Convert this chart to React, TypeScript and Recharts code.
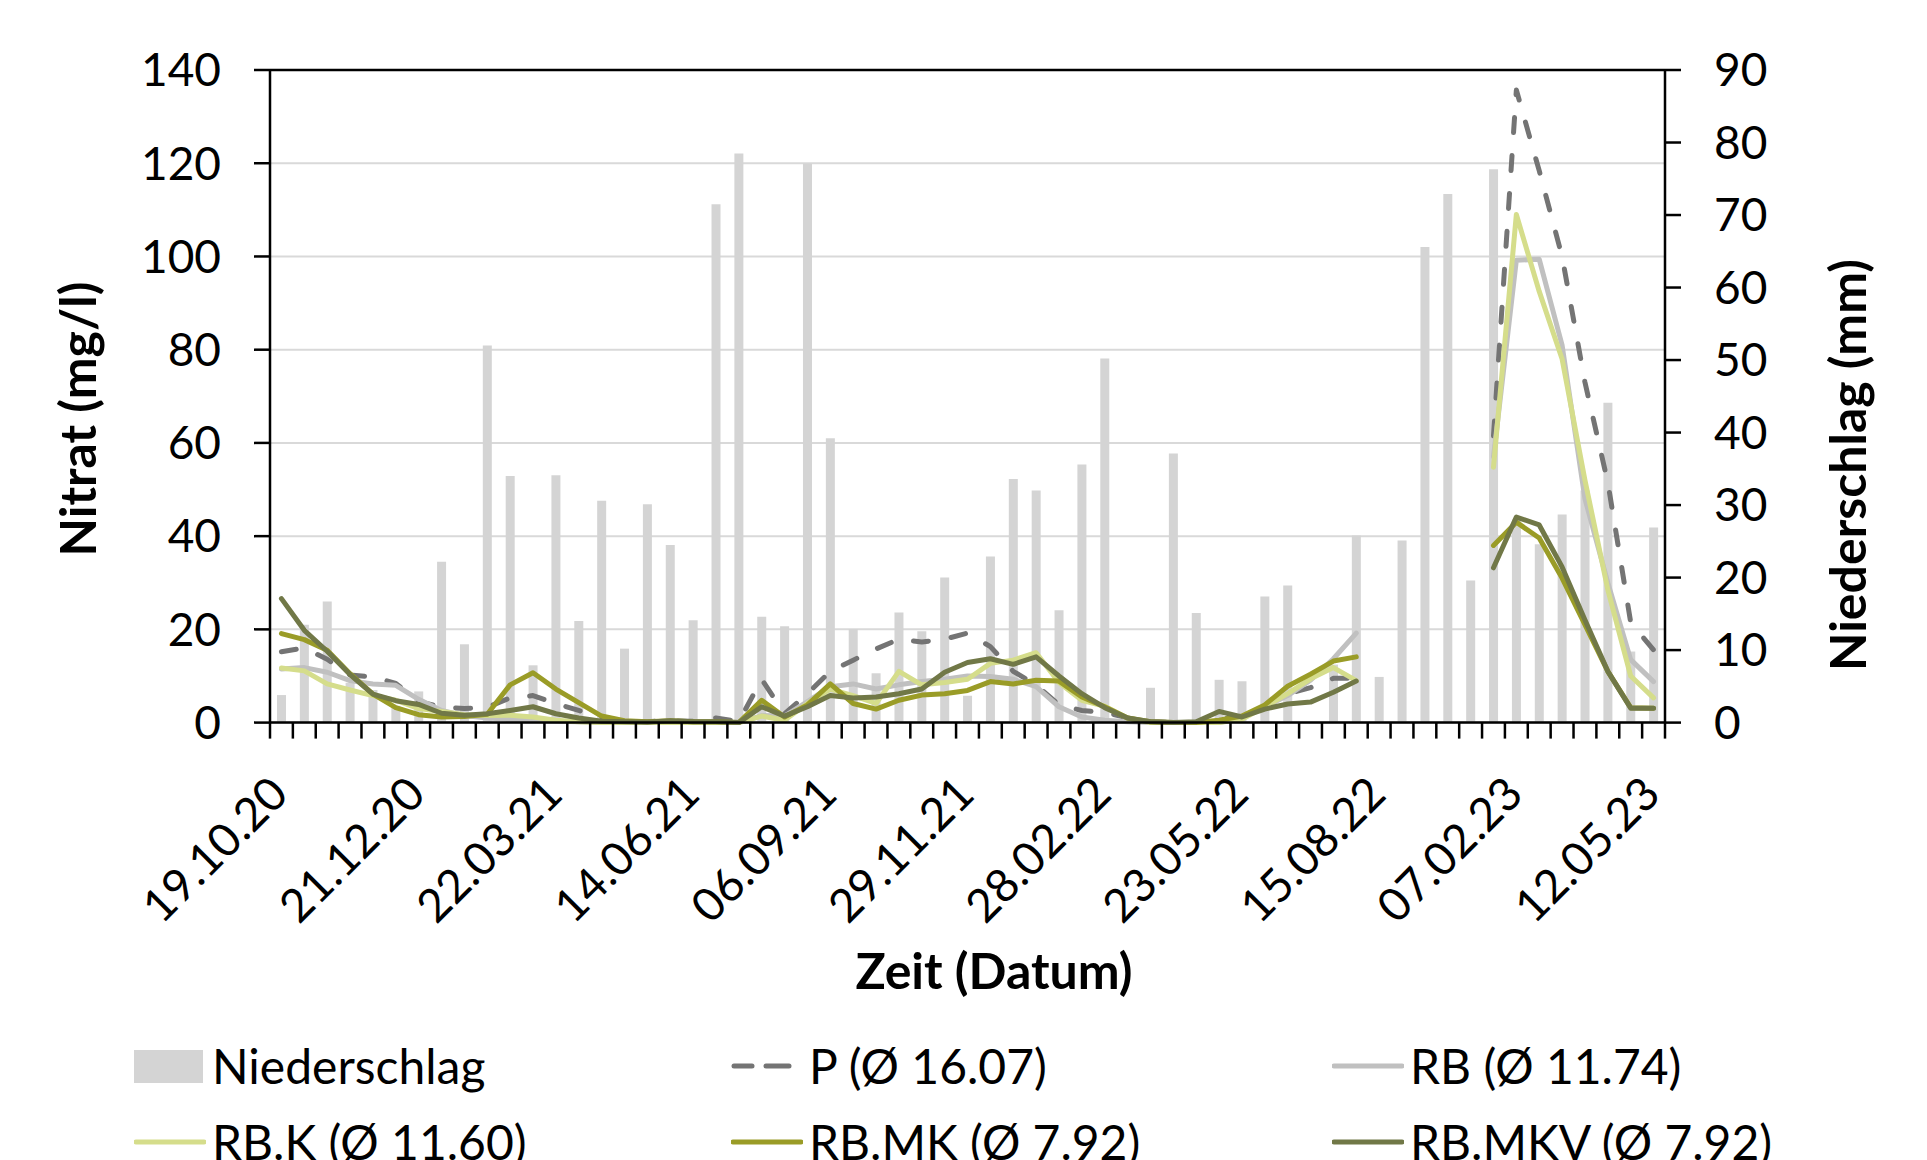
import React from "react";
import { ComposedChart, Bar, Line, XAxis, YAxis, CartesianGrid, ReferenceLine } from "recharts";

// Probenahmetermine (Kategorien)
const dates = [
  "19.10.20", "02.11.20", "16.11.20", "30.11.20", "07.12.20", "14.12.20",
  "21.12.20", "04.01.21", "18.01.21", "01.02.21", "15.02.21", "01.03.21",
  "22.03.21", "06.04.21", "19.04.21", "03.05.21", "17.05.21", "31.05.21",
  "14.06.21", "28.06.21", "12.07.21", "26.07.21", "09.08.21", "23.08.21",
  "06.09.21", "20.09.21", "04.10.21", "18.10.21", "01.11.21", "15.11.21",
  "29.11.21", "13.12.21", "27.12.21", "10.01.22", "24.01.22", "07.02.22",
  "28.02.22", "14.03.22", "28.03.22", "11.04.22", "25.04.22", "09.05.22",
  "23.05.22", "06.06.22", "20.06.22", "04.07.22", "18.07.22", "01.08.22",
  "15.08.22", "05.09.22", "10.10.22", "07.11.22", "05.12.22", "09.01.23",
  "07.02.23", "21.02.23", "07.03.23", "21.03.23", "04.04.23", "25.04.23",
  "12.05.23",
];

// Niederschlag (mm), rechte Achse
const niederschlag = [
  3.8, 13.5, 16.7, 5.5, 4.5, 2.3, 4.3, 22.2, 10.8, 52,
  34, 7.9, 34.1, 14, 30.6, 10.2, 30.1, 24.5, 14.1, 71.5,
  78.5, 14.6, 13.3, 77.1, 39.2, 12.9, 6.8, 15.2, 12.6, 20,
  3.7, 22.9, 33.6, 32, 15.5, 35.6, 50.2, 0, 4.8, 37.1,
  15.1, 5.9, 5.7, 17.4, 18.9, 0, 8, 25.8, 6.3, 25.1,
  65.6, 72.9, 19.6, 76.3, 28, 24.6, 28.7, 32, 44.1, 9.8, 26.9,
];

// Nitrat (mg/l), linke Achse
const nitratP = [
  15.2, 16, 13.6, 10.2, 9.8, 8.4, 4.5, 3.4, 3.0, 3.3,
  5.3, 5.8, 4.1, 2.6, 1.0, 0.3, 0.2, 0.4, 0.3, 1.0,
  0.2, 9.3, 1.9, 6.2, 11, 13.4, 15.8, 17.9, 17.3, 17.9,
  19.2, 16.3, 11, 8.1, 3.8, 2.6, 2.2, 1.0, 0.2, 0,
  0, 0.8, 1.2, 3.4, 6.2, 7.5, 9.5, 9.5, null, null,
  null, null, null, 61.5, 135.7, 118.4, 100, 73, 51.5, 21.5, 15.6,
];

const nitratRB = [
  11.5, 11.8, 10.8, 9.0, 8.3, 8.0, 5.0, 2.6, 1.5, 1.0,
  0.7, 0.5, 0.3, 0.2, 0, 0, 0, 0, 0, 0,
  0, 1.5, 1.4, 4.5, 7.7, 8.3, 7.2, 8.1, 8.8, 9.3,
  10, 9.9, 9.3, 7.7, 3.4, 1.2, 0.5, 0.2, 0, 0,
  0, 0, 1, 3.4, 5.8, 9.1, 13.7, 19.2, null, null,
  null, null, null, 57, 99.2, 99.4, 81, 48, 30, 13.5, 8.8,
];

const nitratRBK = [
  11.7, 11.1, 8.3, 7.0, 5.8, 4.8, 3.0, 2.4, 1.7, 1.5,
  1.6, 1.2, 0.5, 0.2, 0, 0, 0, 0, 0, 0,
  0, 1.4, 0.5, 4.1, 7.2, 5.8, 4.1, 11, 8.1, 8.6,
  9.3, 12.7, 13.4, 15, 8.6, 4.8, 3.5, 1, 0, 0,
  0, 0, 0.7, 3.4, 6.2, 9.4, 11.8, 9.0, null, null,
  null, null, null, 54.8, 109, 92.5, 78, 52, 28.5, 10, 5.3,
];

const nitratRBMK = [
  19.1, 17.8, 15.5, 10.5, 6.1, 3.2, 1.7, 1.2, 1.3, 1.8,
  8.1, 10.7, 7.2, 4.3, 1.4, 0.4, 0.2, 0.4, 0.2, 0.2,
  0, 4.8, 1.2, 3.8, 8.3, 4.1, 2.9, 4.8, 5.9, 6.2,
  6.9, 8.8, 8.3, 9.1, 8.9, 5.5, 3.4, 1, 0.2, 0,
  0, 0.5, 1.4, 3.8, 7.8, 10.4, 13.2, 14.1, null, null,
  null, null, null, 38, 43, 39.6, 31, 21, 11, 3.2, 3.1,
];

const nitratRBMKV = [
  26.6, 19.8, 15.3, 10.3, 6.1, 4.7, 3.9, 2.0, 1.6, 1.9,
  2.6, 3.4, 1.9, 1.0, 0.3, 0.2, 0.1, 0.4, 0.2, 0.2,
  0, 3.4, 1.4, 3.4, 5.8, 5.3, 5.5, 6.2, 7.2, 10.8,
  12.9, 13.7, 12.5, 14.1, 10, 6.2, 3.2, 1.0, 0.2, 0,
  0.2, 2.4, 1.2, 2.9, 4.0, 4.4, 6.5, 8.9, null, null,
  null, null, null, 33.2, 44.1, 42.4, 33.4, 22, 11, 3.1, 3.1,
];

const leftTicks = [0, 20, 40, 60, 80, 100, 120, 140];
const rightTicks = [0, 10, 20, 30, 40, 50, 60, 70, 80, 90];

const W = 1927;
const H = 1160;
const PLOT_L = 270;
const PLOT_R = 1665;
const PLOT_T = 70;
const PLOT_B = 722.6;
const BAND = (PLOT_R - PLOT_L) / dates.length;
const FONT = "Lato, 'Open Sans', sans-serif";
const FS = 46;
const LEGEND_FS = 48;
const BAR_COLOR = "#D4D4D4";

const series = [
  { key: "p", name: "P (Ø 16.07)", color: "#747474", dash: "15 23" },
  { key: "rb", name: "RB (Ø 11.74)", color: "#C0C0C0" },
  { key: "rbK", name: "RB.K (Ø 11.60)", color: "#D5DD8B" },
  { key: "rbMK", name: "RB.MK (Ø 7.92)", color: "#9A9C27" },
  { key: "rbMKV", name: "RB.MKV (Ø 7.92)", color: "#717847" },
];

const data = dates.map((d, i) => ({
  date: d,
  rain: niederschlag[i],
  p: nitratP[i],
  rb: nitratRB[i],
  rbK: nitratRBK[i],
  rbMK: nitratRBMK[i],
  rbMKV: nitratRBMKV[i],
}));

const DateTick = (props: any) => {
  const { x, payload, index } = props;
  const left = x - BAND / 2;
  const ax = x + 9;
  const ay = PLOT_B + 74;
  return (
    <g>
      <line x1={left} x2={left} y1={PLOT_B} y2={PLOT_B + 16} stroke="#000" strokeWidth={2.5} />
      {index === dates.length - 1 && (
        <line x1={x + BAND / 2} x2={x + BAND / 2} y1={PLOT_B} y2={PLOT_B + 16} stroke="#000" strokeWidth={2.5} />
      )}
      {index % 6 === 0 && (
        <text
          x={ax}
          y={ay}
          textAnchor="end"
          transform={`rotate(-45 ${ax} ${ay})`}
          fontSize={FS}
          fontFamily={FONT}
          fill="#000"
        >
          {payload.value}
        </text>
      )}
    </g>
  );
};

const titleStyle = { fontSize: 50, fontWeight: 700, fontFamily: FONT, fill: "#000" };

const legendItems = [
  { name: "Niederschlag", color: BAR_COLOR, box: true, dash: undefined as string | undefined },
  ...series.map((s) => ({ name: s.name, color: s.color, box: false, dash: s.dash })),
];
const LEGEND_MARK_X = [134, 731, 1332];
const LEGEND_ROW_Y = [1042, 1118];

const App: React.FC = () => {
  return (
    <div style={{ position: "relative", width: W, height: H, background: "#fff", overflow: "hidden" }}>
      <style>{`body{margin:0;overflow:hidden}`}</style>
      <ComposedChart
        width={W}
        height={H}
        data={data}
        margin={{ top: PLOT_T, left: PLOT_L - 120, right: W - PLOT_R - 120, bottom: H - PLOT_B - 100 }}
        barCategoryGap={0}
      >
        <CartesianGrid yAxisId="left" vertical={false} stroke="#D9D9D9" strokeWidth={2} />
        <XAxis
          dataKey="date"
          interval={0}
          height={100}
          tickSize={0}
          tickMargin={0}
          tickLine={false}
          axisLine={{ stroke: "#000", strokeWidth: 2.5 }}
          tick={<DateTick />}
          label={{
            content: () => (
              <text x={994} y={970} textAnchor="middle" dominantBaseline="central" style={titleStyle}>
                Zeit (Datum)
              </text>
            ),
          }}
        />
        <YAxis
          yAxisId="left"
          domain={[0, 140]}
          ticks={leftTicks}
          width={120}
          tickSize={16}
          tickMargin={33}
          axisLine={{ stroke: "#000", strokeWidth: 2.5 }}
          tickLine={{ stroke: "#000", strokeWidth: 2.5 }}
          tick={{ fontSize: FS, fontFamily: FONT, fill: "#000" }}
          label={{
            content: () => (
              <text x={77} y={419} transform="rotate(-90 77 419)" textAnchor="middle" dominantBaseline="central" style={titleStyle}>
                Nitrat (mg/l)
              </text>
            ),
          }}
        />
        <YAxis
          yAxisId="right"
          orientation="right"
          domain={[0, 90]}
          ticks={rightTicks}
          width={120}
          tickSize={16}
          tickMargin={33}
          axisLine={{ stroke: "#000", strokeWidth: 2.5 }}
          tickLine={{ stroke: "#000", strokeWidth: 2.5 }}
          tick={{ fontSize: FS, fontFamily: FONT, fill: "#000" }}
          label={{
            content: () => (
              <text x={1847} y={465} transform="rotate(-90 1847 465)" textAnchor="middle" dominantBaseline="central" style={titleStyle}>
                Niederschlag (mm)
              </text>
            ),
          }}
        />
        <ReferenceLine yAxisId="left" y={140} stroke="#000" strokeWidth={2.5} />
        <Bar yAxisId="right" dataKey="rain" name="Niederschlag" fill={BAR_COLOR} barSize={9} isAnimationActive={false} />
        {series.map((s) => (
          <Line
            key={s.key}
            yAxisId="left"
            type="linear"
            dataKey={s.key}
            name={s.name}
            stroke={s.color}
            strokeWidth={5}
            strokeDasharray={s.dash}
            strokeLinecap="round"
            strokeLinejoin="round"
            dot={false}
            activeDot={false}
            isAnimationActive={false}
          />
        ))}
      </ComposedChart>
      {legendItems.map((item, i) => {
        const col = i % 3;
        const row = Math.floor(i / 3);
        return (
          <div
            key={item.name}
            style={{
              position: "absolute",
              left: LEGEND_MARK_X[col],
              top: LEGEND_ROW_Y[row],
              display: "flex",
              alignItems: "center",
              height: LEGEND_FS,
              fontFamily: FONT,
              fontSize: LEGEND_FS,
              lineHeight: `${LEGEND_FS}px`,
              color: "#000",
              whiteSpace: "nowrap",
            }}
          >
            <svg width={72} height={40} style={{ marginRight: 6, flex: "none" }}>
              {item.box ? (
                <rect x={0} y={4} width={69} height={33} fill={item.color} />
              ) : item.dash ? (
                <g stroke={item.color} strokeWidth={5} strokeLinecap="round">
                  <line x1={3} y1={20} x2={21} y2={20} />
                  <line x1={35} y1={20} x2={58} y2={20} />
                </g>
              ) : (
                <line x1={2} y1={20} x2={70} y2={20} stroke={item.color} strokeWidth={5} strokeLinecap="round" />
              )}
            </svg>
            <span>{item.name}</span>
          </div>
        );
      })}
    </div>
  );
};

export default App;
